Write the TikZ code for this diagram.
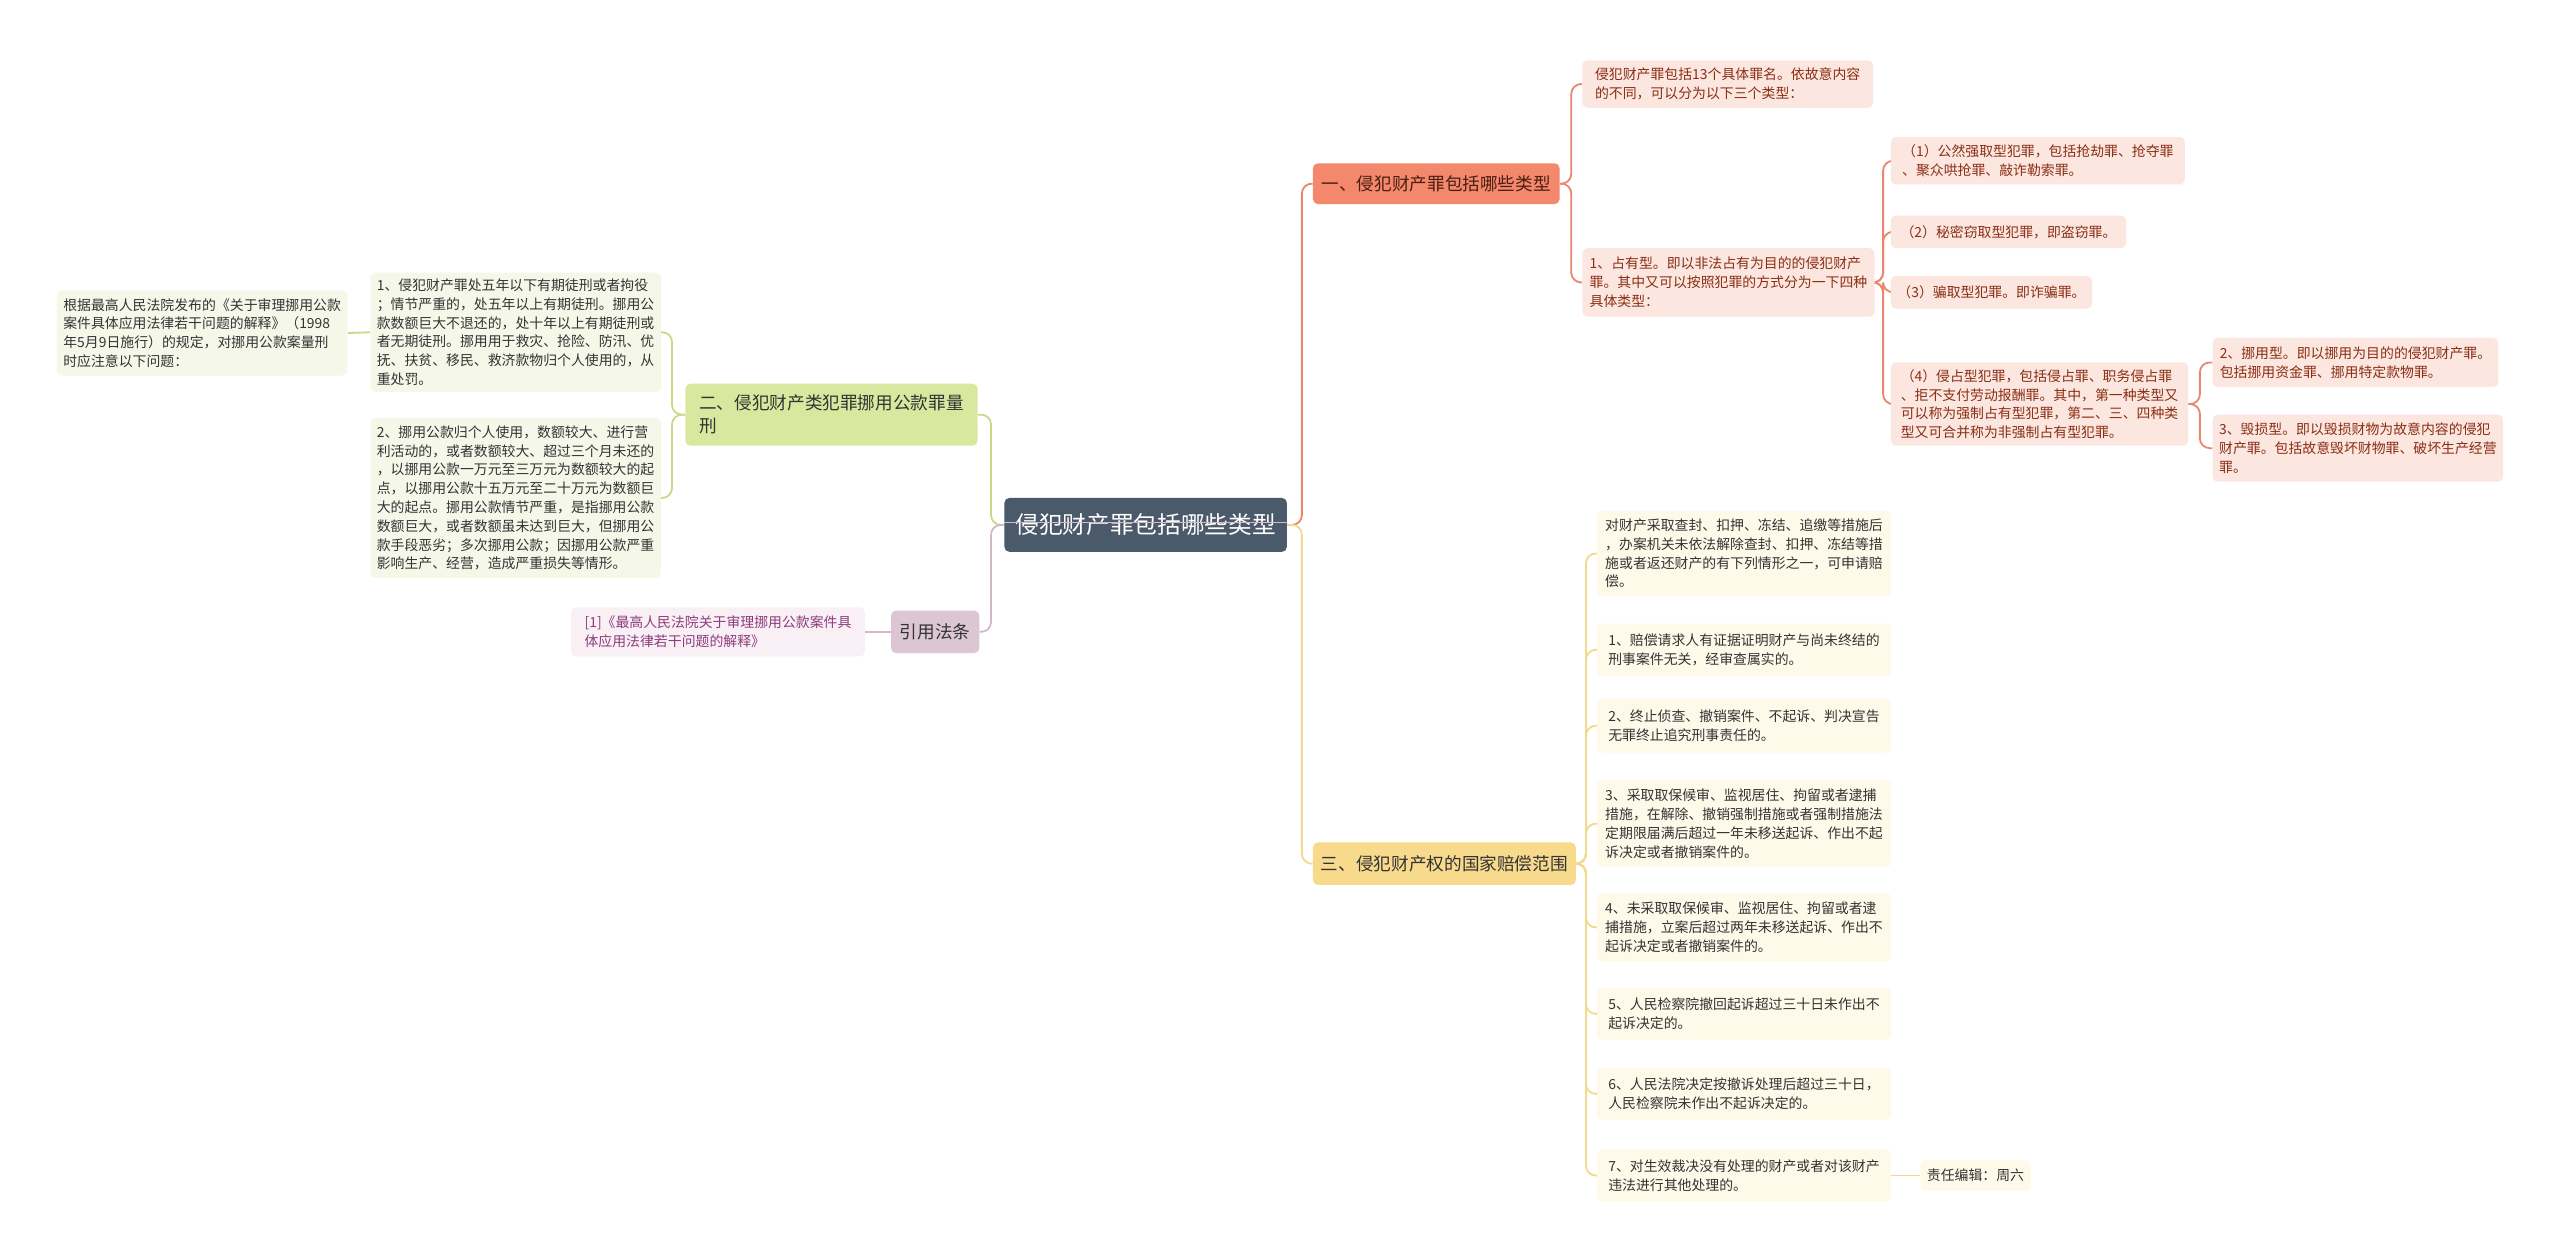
\documentclass[tikz,border=0pt]{standalone}
\usepackage{fontspec}
\setmainfont{Noto Sans CJK SC}
\usetikzlibrary{backgrounds}
\definecolor{rootc}{HTML}{4B5A6A}
\definecolor{bonec}{HTML}{F4886C}
\definecolor{bonetext}{HTML}{4A1E12}
\definecolor{leafrc}{HTML}{FCE7E0}
\definecolor{leafrtext}{HTML}{8A2E14}
\definecolor{liner}{HTML}{E9876C}
\definecolor{btwoc}{HTML}{D9E89F}
\definecolor{leafgc}{HTML}{F5F8E9}
\definecolor{lineg}{HTML}{C8DA8A}
\definecolor{bthreec}{HTML}{DCC6D3}
\definecolor{leafpc}{HTML}{F8F0F5}
\definecolor{leafptext}{HTML}{8E3C7C}
\definecolor{linep}{HTML}{D3B9C8}
\definecolor{bfourc}{HTML}{F7DA8C}
\definecolor{leafyc}{HTML}{FFF9E9}
\definecolor{liney}{HTML}{F1D98E}
\definecolor{darktext}{HTML}{333333}
\tikzset{
  box/.style 2 args={rectangle, rounded corners=3pt, minimum width=#1, minimum height=#2, inner xsep=4pt, inner ysep=3pt, align=left, anchor=west},
  small/.style={font=\fontsize{8.5}{11.5}\selectfont},
  big/.style={font=\fontsize{10.8}{14}\selectfont},
  rootbox/.style={fill=rootc, text=white, font=\fontsize{14.5}{17}\selectfont},
  bone/.style={fill=bonec, text=bonetext, big},
  leafr/.style={fill=leafrc, text=leafrtext, small},
  btwo/.style={fill=btwoc, text=darktext, big},
  leafg/.style={fill=leafgc, text=darktext, small},
  bthree/.style={fill=bthreec, text=darktext, big},
  leafp/.style={fill=leafpc, text=leafptext, small},
  bfour/.style={fill=bfourc, text=darktext, big},
  leafy/.style={fill=leafyc, text=darktext, small},
  conn/.style={line width=1.1pt, rounded corners=6pt},
}
\begin{document}
\begin{tikzpicture}[x=1pt,y=-1pt]
\useasboundingbox (0,0) rectangle (1568,770);

% root
\node[box={173pt}{33pt}, rootbox, align=center] (root) at (615,321.5) {侵犯财产罪包括哪些类型};

% branch 1
\node[box={151pt}{25pt}, bone] (b1) at (804,112.5) {一、侵犯财产罪包括哪些类型};
\node[box={178pt}{29pt}, leafr] (a) at (969,51.5) {侵犯财产罪包括13个具体罪名。依故意内容\\的不同，可以分为以下三个类型：};
\node[box={179pt}{42pt}, leafr] (b) at (969,173) {1、占有型。即以非法占有为目的的侵犯财产\\罪。其中又可以按照犯罪的方式分为一下四种\\具体类型：};
\node[box={180pt}{29pt}, leafr] (c1) at (1158,98.5) {（1）公然强取型犯罪，包括抢劫罪、抢夺罪\\、聚众哄抢罪、敲诈勒索罪。};
\node[box={144pt}{20pt}, leafr] (c2) at (1158,142) {（2）秘密窃取型犯罪，即盗窃罪。};
\node[box={114pt}{20pt}, leafr] (c3) at (1158,179) {（3）骗取型犯罪。即诈骗罪。};
\node[box={182pt}{51pt}, leafr] (c4) at (1158,247.5) {（4）侵占型犯罪，包括侵占罪、职务侵占罪\\、拒不支付劳动报酬罪。其中，第一种类型又\\可以称为强制占有型犯罪，第二、三、四种类\\型又可合并称为非强制占有型犯罪。};
\node[box={175pt}{30pt}, leafr] (d2) at (1355,222) {2、挪用型。即以挪用为目的的侵犯财产罪。\\包括挪用资金罪、挪用特定款物罪。};
\node[box={175pt}{41pt}, leafr] (d3) at (1355,274.5) {3、毁损型。即以毁损财物为故意内容的侵犯\\财产罪。包括故意毁坏财物罪、破坏生产经营\\罪。};

% branch 2
\node[box={179pt}{38pt}, btwo, anchor=east] (b2) at (599,254) {二、侵犯财产类犯罪挪用公款罪量\\刑};
\node[box={177pt}{73pt}, leafg, anchor=east] (e1) at (405,203.5) {1、侵犯财产罪处五年以下有期徒刑或者拘役\\；情节严重的，处五年以上有期徒刑。挪用公\\款数额巨大不退还的，处十年以上有期徒刑或\\者无期徒刑。挪用用于救灾、抢险、防汛、优\\抚、扶贫、移民、救济款物归个人使用的，从\\重处罚。};
\node[box={177pt}{98pt}, leafg, anchor=east] (e2) at (405,305) {2、挪用公款归个人使用，数额较大、进行营\\利活动的，或者数额较大、超过三个月未还的\\，以挪用公款一万元至三万元为数额较大的起\\点，以挪用公款十五万元至二十万元为数额巨\\大的起点。挪用公款情节严重，是指挪用公款\\数额巨大，或者数额虽未达到巨大，但挪用公\\款手段恶劣；多次挪用公款；因挪用公款严重\\影响生产、经营，造成严重损失等情形。};
\node[box={178pt}{52pt}, leafg, anchor=east] (e0) at (213,204) {根据最高人民法院发布的《关于审理挪用公款\\案件具体应用法律若干问题的解释》（1998\\年5月9日施行）的规定，对挪用公款案量刑\\时应注意以下问题：};

% branch 3
\node[box={54pt}{26pt}, bthree, anchor=east] (b3) at (600,387) {引用法条};
\node[box={180pt}{30pt}, leafp, anchor=east] (f1) at (530,387) {[1]《最高人民法院关于审理挪用公款案件具\\体应用法律若干问题的解释》};

% branch 4
\node[box={161pt}{26pt}, bfour] (b4) at (804,529) {三、侵犯财产权的国家赔偿范围};
\node[box={180pt}{52pt}, leafy] (g0) at (978,339) {对财产采取查封、扣押、冻结、追缴等措施后\\，办案机关未依法解除查封、扣押、冻结等措\\施或者返还财产的有下列情形之一，可申请赔\\偿。};
\node[box={180pt}{32pt}, leafy] (g1) at (978,398) {1、赔偿请求人有证据证明财产与尚未终结的\\刑事案件无关，经审查属实的。};
\node[box={180pt}{33pt}, leafy] (g2) at (978,444.5) {2、终止侦查、撤销案件、不起诉、判决宣告\\无罪终止追究刑事责任的。};
\node[box={180pt}{53pt}, leafy] (g3) at (978,504.5) {3、采取取保候审、监视居住、拘留或者逮捕\\措施，在解除、撤销强制措施或者强制措施法\\定期限届满后超过一年未移送起诉、作出不起\\诉决定或者撤销案件的。};
\node[box={180pt}{42pt}, leafy] (g4) at (978,568) {4、未采取取保候审、监视居住、拘留或者逮\\捕措施，立案后超过两年未移送起诉、作出不\\起诉决定或者撤销案件的。};
\node[box={180pt}{32pt}, leafy] (g5) at (978,621) {5、人民检察院撤回起诉超过三十日未作出不\\起诉决定的。};
\node[box={180pt}{32pt}, leafy] (g6) at (978,670) {6、人民法院决定按撤诉处理后超过三十日，\\人民检察院未作出不起诉决定的。};
\node[box={180pt}{32pt}, leafy] (g7) at (978,720) {7、对生效裁决没有处理的财产或者对该财产\\违法进行其他处理的。};
\node[box={64pt}{19pt}, leafy] (h7) at (1176,720) {责任编辑：周六};

\begin{scope}[on background layer]
  \fill[white] (0,0) rectangle (1568,770);
  % root connectors
  \draw[conn, liner] (root.east) -- ++(9,0) |- (b1.west);
  \draw[conn, liney] (root.east) -- ++(9,0) |- (b4.west);
  \draw[conn, lineg] (root.west) -- ++(-8,0) |- (b2.east);
  \draw[conn, linep] (root.west) -- ++(-8,0) |- (b3.east);
  % branch 1
  \foreach \t in {a,b} \draw[conn, liner] (b1.east) -- ++(7,0) |- (\t.west);
  \foreach \t in {c1,c2,c3,c4} \draw[conn, liner] (b.east) -- ++(5,0) |- (\t.west);
  \foreach \t in {d2,d3} \draw[conn, liner] (c4.east) -- ++(7,0) |- (\t.west);
  % branch 2
  \foreach \t in {e1,e2} \draw[conn, lineg] (b2.west) -- ++(-8,0) |- (\t.east);
  \draw[conn, lineg] (e1.west) -- (e0.east);
  % branch 3
  \draw[conn, linep] (b3.west) -- (f1.east);
  % branch 4
  \foreach \t in {g0,g1,g2,g3,g4,g5,g6,g7} \draw[conn, liney] (b4.east) -- ++(6,0) |- (\t.west);
  \draw[conn, liney] (g7.east) -- (h7.west);
\end{scope}
% thin connector line visible across the root node
\draw[linep, line width=0.6pt] ([yshift=1.5pt]root.west) -- ([yshift=1.5pt]root.east);
\end{tikzpicture}
\end{document}
